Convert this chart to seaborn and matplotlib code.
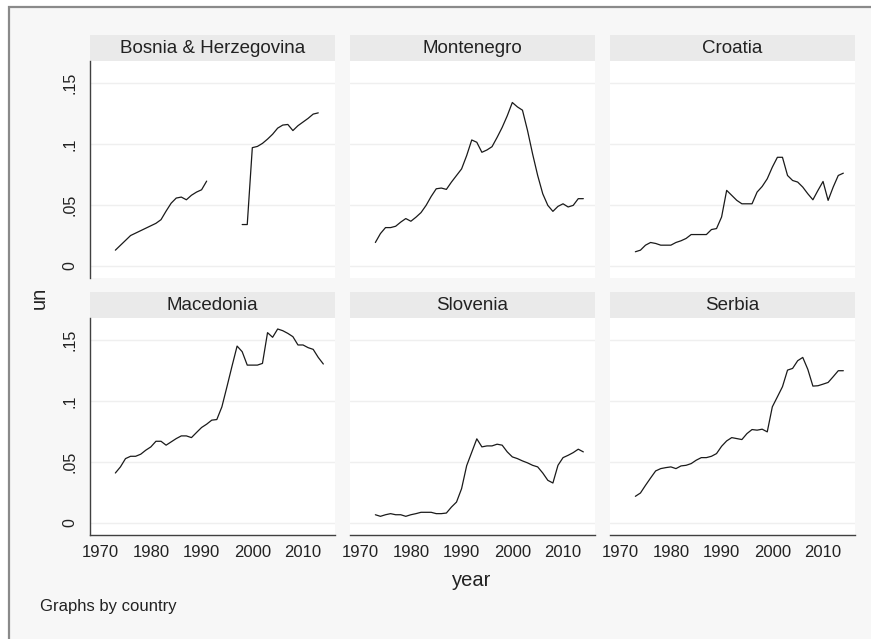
import numpy as np
import pandas as pd
import matplotlib
matplotlib.use("Agg")
import matplotlib.pyplot as plt
from matplotlib.patches import Rectangle
from matplotlib import font_manager
import seaborn as sns

nan = np.nan
years = list(range(1973, 2015))

countries = ["Bosnia & Herzegovina", "Montenegro", "Croatia",
             "Macedonia", "Slovenia", "Serbia"]

bosnia = [0.013, 0.017, 0.021, 0.025, 0.027, 0.029, 0.031, 0.033, 0.035, 0.038,
          0.045, 0.0515, 0.0557, 0.0565, 0.0543, 0.058, 0.0606, 0.0625, 0.0696,
          nan, nan, nan, nan, nan, nan,
          0.034, 0.034, 0.097, 0.098, 0.1005, 0.104, 0.108, 0.113, 0.1155, 0.116,
          0.111, 0.115, 0.118, 0.121, 0.1245, 0.1255, nan]
montenegro = [0.0193, 0.0266, 0.0315, 0.0315, 0.0326, 0.036, 0.0389, 0.0367, 0.040, 0.0438,
              0.0497, 0.057, 0.0633, 0.0639, 0.0628, 0.0688, 0.0742, 0.0796, 0.0905, 0.1033,
              0.1014, 0.0932, 0.0951, 0.0978, 0.1054, 0.1136, 0.1231, 0.134, 0.1304, 0.1277,
              0.111, 0.0918, 0.0742, 0.0592, 0.0497, 0.0448, 0.0489, 0.051, 0.0484, 0.0497,
              0.0552, 0.0552]
croatia = [0.0117, 0.013, 0.0171, 0.0193, 0.0185, 0.0171, 0.0171, 0.0171, 0.0193, 0.0207,
           0.0226, 0.0258, 0.0258, 0.0258, 0.0258, 0.0299, 0.0307, 0.0402, 0.062, 0.0579,
           0.0538, 0.051, 0.051, 0.051, 0.0606, 0.0652, 0.0715, 0.081, 0.0891, 0.0891,
           0.0742, 0.0701, 0.0688, 0.0647, 0.0592, 0.0543, 0.062, 0.0693, 0.0538, 0.0647,
           0.0742, 0.0761]
macedonia = [0.041, 0.046, 0.0528, 0.0547, 0.0547, 0.0564, 0.0597, 0.0624, 0.067, 0.067,
             0.0638, 0.0665, 0.0692, 0.0714, 0.0714, 0.070, 0.0742, 0.0783, 0.081, 0.0843,
             0.0848, 0.0952, 0.1117, 0.1286, 0.145, 0.1404, 0.1294, 0.1294, 0.1294, 0.1308,
             0.156, 0.1522, 0.159, 0.1576, 0.1554, 0.1527, 0.1459, 0.1459, 0.1437, 0.1423,
             0.1357, 0.1303]
slovenia = [0.0068, 0.0055, 0.0068, 0.0077, 0.0068, 0.0068, 0.0055, 0.0068, 0.0077, 0.0088,
            0.0088, 0.0088, 0.0077, 0.0077, 0.0082, 0.0131, 0.0172, 0.0282, 0.047, 0.058,
            0.069, 0.0624, 0.0632, 0.0632, 0.0646, 0.0638, 0.0583, 0.0542, 0.0528, 0.0509,
            0.0493, 0.0473, 0.046, 0.041, 0.035, 0.0328, 0.0473, 0.0536, 0.0555, 0.0577,
            0.0605, 0.0583]
serbia = [0.0219, 0.0246, 0.0309, 0.0369, 0.0427, 0.0446, 0.0454, 0.046, 0.0446, 0.0468,
          0.0473, 0.0487, 0.0515, 0.0536, 0.0536, 0.0547, 0.0569, 0.0629, 0.0673, 0.070,
          0.0692, 0.0684, 0.0733, 0.0766, 0.0761, 0.0769, 0.0747, 0.0952, 0.1034, 0.1117,
          0.1253, 0.1267, 0.133, 0.1357, 0.1259, 0.1122, 0.1125, 0.1138, 0.1152, 0.1199,
          0.1248, 0.1248]

series = [bosnia, montenegro, croatia, macedonia, slovenia, serbia]

ytick_vals = [0, 0.05, 0.1, 0.15]
ytick_labels = ["0", ".05", ".1", ".15"]
xtick_vals = [1970, 1980, 1990, 2000, 2010]

# long-format table; a new segment starts after every missing year
frames = []
for name, vals in zip(countries, series):
    d = pd.DataFrame({"country": name, "year": years, "un": vals})
    d["seg"] = d["un"].isna().cumsum()
    frames.append(d.dropna())
df = pd.concat(frames, ignore_index=True)

sns.set_style("white")


def pick_font(names):
    for n in names:
        try:
            font_manager.findfont(n, fallback_to_default=False)
            return n
        except Exception:
            continue
    return "DejaVu Sans"


main_font = pick_font(["Liberation Sans", "Arial", "DejaVu Sans"])
narrow_font = pick_font(["Liberation Sans Narrow", "Liberation Sans", "DejaVu Sans"])
plt.rcParams["font.family"] = [main_font, "DejaVu Sans"]

W, H = 871, 639
fig = plt.figure(figsize=(W / 100, H / 100), dpi=100, facecolor="white")


def box(x0, y0, x1, y1):
    return [x0 / W, 1 - y1 / H, (x1 - x0) / W, (y1 - y0) / H]


# graph region with its frame
fig.patches.append(Rectangle((9 / W, -0.1), 1.2, 1 - 7 / H + 0.1,
                             transform=fig.transFigure, facecolor="#f7f7f7",
                             edgecolor="#8a8a8a", lw=1.6, zorder=-1))

col_x = [90, 350, 610]
panel_w = 245
rows = [(35, 61, 278), (292, 318, 535)]  # strip top, plot top, plot bottom
xlim = (1968.0, 2016.3)
ylim = (-0.0098, 0.168)
axis_col = "#404040"
text_col = "#222222"

for i, name in enumerate(countries):
    r, c = divmod(i, 3)
    st, pt, pb = rows[r]
    x0 = col_x[c]
    x1 = x0 + panel_w

    sax = fig.add_axes(box(x0, st, x1, pt))
    sax.set_facecolor("#eaeaea")
    for s in sax.spines.values():
        s.set_visible(False)
    sax.set_xticks([])
    sax.set_yticks([])
    sax.text(0.5, 0.47, name, ha="center", va="center", fontsize=13.5,
             color=text_col, transform=sax.transAxes)

    ax = fig.add_axes(box(x0, pt, x1, pb))
    ax.set_facecolor("white")
    sub = df[df["country"] == name]
    sns.lineplot(data=sub, x="year", y="un", units="seg", estimator=None,
                 color="#1a1a1a", lw=0.9, ax=ax)
    ax.set_xlim(*xlim)
    ax.set_ylim(*ylim)
    for yv in ytick_vals:
        ax.axhline(yv, color="#efefef", lw=1.0, zorder=0)
    for s in ax.spines.values():
        s.set_visible(False)
    ax.set_xlabel("")
    ax.set_ylabel("")

    ax.set_yticks(ytick_vals)
    ax.set_xticks(xtick_vals)
    if c == 0:
        ax.spines["left"].set_visible(True)
        ax.spines["left"].set_color(axis_col)
        ax.spines["left"].set_linewidth(1.0)
        ax.set_yticklabels(ytick_labels, rotation=90, va="center",
                           fontsize=11.5, color=text_col, family=narrow_font)
        ax.tick_params(axis="y", length=4, width=0.9, color=axis_col, pad=5)
    else:
        ax.tick_params(axis="y", length=0, labelleft=False)
    if r == 1:
        ax.spines["bottom"].set_visible(True)
        ax.spines["bottom"].set_color(axis_col)
        ax.spines["bottom"].set_linewidth(1.0)
        ax.set_xticklabels([str(v) for v in xtick_vals], fontsize=12,
                           color=text_col, family=narrow_font)
        ax.tick_params(axis="x", length=4, width=0.9, color=axis_col, pad=3)
    else:
        ax.tick_params(axis="x", length=0, labelbottom=False)

fig.text(472 / W, 1 - 580 / H, "year", ha="center", va="center",
         fontsize=14.5, color=text_col, family=narrow_font)
fig.text(39 / W, 1 - 298 / H, "un", ha="center", va="center",
         rotation=90, fontsize=14.5, color=text_col, family=narrow_font)
fig.text(40 / W, 1 - 607 / H, "Graphs by country", ha="left", va="center",
         fontsize=12, color=text_col, family=narrow_font)

fig.savefig("out.png", dpi=100, facecolor="white")
